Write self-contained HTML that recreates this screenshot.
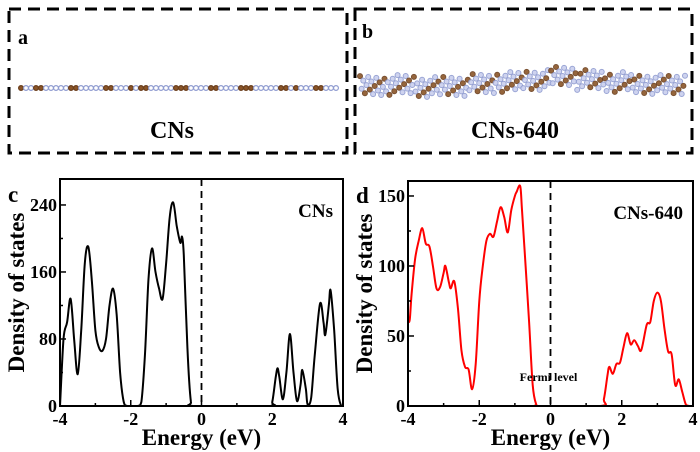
<!DOCTYPE html>
<html><head><meta charset="utf-8">
<style>
html,body{margin:0;padding:0;background:#fff;}
svg{display:block;font-family:"Liberation Serif",serif;}
</style></head>
<body>
<svg id="s" width="700" height="452" viewBox="0 0 700 452">
  <rect x="9" y="9" width="338" height="144" fill="none" stroke="#000" stroke-width="3" stroke-dasharray="12,7"/>
  <rect x="355" y="9" width="337" height="144" fill="none" stroke="#000" stroke-width="3" stroke-dasharray="12,7"/>
  <text x="18" y="44" font-size="20" font-weight="bold">a</text>
  <text x="362" y="38" font-size="20" font-weight="bold">b</text>
  <text x="172" y="138" font-size="24" font-weight="bold" text-anchor="middle">CNs</text>
  <text x="515" y="138" font-size="24" font-weight="bold" text-anchor="middle">CNs-640</text>
  <g id="molA"></g>
  <g id="molB"></g>
  <g id="chartC"></g>
  <g id="chartD"></g>
</svg>
<script>
const cX=[-4,-3.9,-3.8,-3.7,-3.6,-3.5,-3.4,-3.3,-3.2,-3.1,-3.0,-2.9,-2.8,-2.7,-2.6,-2.5,-2.4,-2.3,-2.2,-2.1,-1.8,-1.7,-1.6,-1.5,-1.4,-1.3,-1.2,-1.1,-1.0,-0.9,-0.8,-0.7,-0.6,-0.55,-0.5,-0.4,-0.3,-0.2,1.9,2.0,2.1,2.15,2.2,2.3,2.4,2.5,2.6,2.7,2.8,2.85,2.95,3.0,3.1,3.2,3.35,3.45,3.5,3.6,3.65,3.75,3.85,3.95,4];
const cY=[0,80,100,128,80,38,90,170,190,150,90,70,66,80,120,140,110,40,5,0,0,5,60,150,188,160,140,128,170,225,243,215,195,202,180,70,5,0,0,5,35,45,35,8,40,86,40,6,25,43,20,2,10,60,122,100,85,120,138,90,20,0,0];
const dX=[-4,-3.95,-3.9,-3.8,-3.7,-3.6,-3.5,-3.4,-3.3,-3.2,-3.1,-3.0,-2.95,-2.85,-2.8,-2.7,-2.6,-2.5,-2.4,-2.3,-2.2,-2.1,-2.0,-1.9,-1.8,-1.7,-1.6,-1.5,-1.4,-1.3,-1.2,-1.1,-1.0,-0.95,-0.85,-0.8,-0.7,-0.6,-0.5,-0.4,-0.3,1.4,1.5,1.6,1.65,1.75,1.85,1.95,2.05,2.15,2.25,2.35,2.45,2.55,2.7,2.8,2.9,3.0,3.1,3.2,3.3,3.4,3.5,3.6,3.7,3.8,3.9,4];
const dY=[60,62,80,105,118,127,116,114,100,84,85,95,100,88,84,89,70,40,28,26,12,30,75,100,118,123,121,132,142,135,124,140,150,153,157,140,100,60,15,1,0,0,5,22,28,23,30,31,42,52,44,47,43,40,58,60,75,81,75,55,39,37,15,19,10,1,0,0];
const xTicks=[-4,-2,0,2,4];
const cYTicks=[0,80,160,240];
const dYTicks=[0,50,100,150];

const NS="http://www.w3.org/2000/svg";
function mk(parent,tag,attrs,text){const e=document.createElementNS(NS,tag);for(const k in attrs)e.setAttribute(k,attrs[k]);if(text!==undefined)e.textContent=text;parent.appendChild(e);return e;}
function smooth(pts,B){let d="M"+pts[0][0]+","+pts[0][1];for(let i=0;i<pts.length-1;i++){const p0=pts[Math.max(0,i-1)],p1=pts[i],p2=pts[i+1],p3=pts[Math.min(pts.length-1,i+2)];const c1=[p1[0]+(p2[0]-p0[0])/6,Math.min(B,p1[1]+(p2[1]-p0[1])/6)],c2=[p2[0]-(p3[0]-p1[0])/6,Math.min(B,p2[1]-(p3[1]-p1[1])/6)];d+=" C"+c1[0].toFixed(1)+","+c1[1].toFixed(1)+" "+c2[0].toFixed(1)+","+c2[1].toFixed(1)+" "+p2[0].toFixed(1)+","+p2[1].toFixed(1);}return d;}

function chart(g,cfg){
  const L=cfg.L,R=cfg.R,T=cfg.T,B=cfg.B;
  const sx=v=>L+(v+4)/8*(R-L);
  const sy=v=>B-v/cfg.ymax*(B-T);
  const pts=cfg.xs.map((x,i)=>[sx(x),Math.min(B,sy(cfg.ys[i]))]);
  const clip=mk(g,"clipPath",{id:cfg.id+"clip"});
  mk(clip,"rect",{x:L,y:T,width:R-L,height:B-T});
  const line=mk(g,"path",{d:smooth(pts,B),fill:"none",stroke:cfg.color,"stroke-width":2,"clip-path":"url(#"+cfg.id+"clip)"});
  
  
  const fl=mk(g,"line",{x1:sx(0),x2:sx(0),y1:T,y2:B,stroke:"#000","stroke-width":1.8,"stroke-dasharray":"7,5"});
  
  
  const fr=mk(g,"rect",{x:L,y:T,width:R-L,height:B-T,fill:"none",stroke:"#000","stroke-width":2});
  
  
  for(let v=-4;v<=4;v+=1){const x=sx(v);const len=v%2===0?6:3;mk(g,"line",{x1:x,x2:x,y1:B,y2:B-len,stroke:"#000","stroke-width":1.5});}
  xTicks.forEach(v=>{const t=mk(g,"text",{x:sx(v),y:B+19,"font-size":18,"font-weight":"bold","text-anchor":"middle"},String(v));
    
    });
  const step=cfg.yt[1]-cfg.yt[0];
  for(let v=0;v<=cfg.ymax;v+=step/2){const y=sy(v);const len=(Math.round(v/step*2)%2===0)?6:3;mk(g,"line",{x1:L,x2:L+len,y1:y,y2:y,stroke:"#000","stroke-width":1.5});}
  cfg.yt.forEach(v=>{const t=mk(g,"text",{x:L-3,y:sy(v)+6,"font-size":18,"font-weight":"bold","text-anchor":"end"},String(v));
    
    });
  const xt=mk(g,"text",{x:(L+R)/2,y:445,"font-size":23,"font-weight":"bold","text-anchor":"middle"},"Energy (eV)");
  
  
  const yt=mk(g,"text",{x:0,y:0,"font-size":23,"font-weight":"bold","text-anchor":"middle",transform:"translate("+cfg.ytx+","+((T+B)/2)+") rotate(-90)"},"Density of states");
  
  
  const pl=mk(g,"text",{x:cfg.plx,y:cfg.ply,"font-size":23,"font-weight":"bold"},cfg.panel);
  
  
  const lg=mk(g,"text",{x:R-10,y:T+38,"font-size":19,"font-weight":"bold","text-anchor":"end"},cfg.name);
  
  
  return {sx,sy};
}
chart(document.getElementById("chartC"),{id:"c",L:60,R:343,T:179,B:406,ymax:271,xs:cX,ys:cY,color:"#000",yt:cYTicks,ytx:24,plx:8,ply:202,panel:"c",name:"CNs"});
const d=chart(document.getElementById("chartD"),{id:"d",L:408,R:693,T:181,B:406,ymax:160.7,xs:dX,ys:dY,color:"#f00",yt:dYTicks,ytx:372,plx:356,ply:203,panel:"d",name:"CNs-640"});
const fe=mk(document.getElementById("chartD"),"text",{x:d.sx(0)-2,y:381,"font-size":12,"font-weight":"bold","text-anchor":"middle"},"Fermi level");



// decorative molecular structures
const mA=document.getElementById("molA");
mk(mA,"line",{x1:20,x2:338,y1:88,y2:88,stroke:"#6a4a3a","stroke-width":1.5});
for(let i=0;i<64;i++){const x=21+i*5;const br=(i%7===3||i%7===4||i%11===0);mk(mA,"circle",{cx:x,cy:88,r:2.4,fill:br?"#8a5528":"#fff",stroke:br?"#6b3e1c":"#8f9bd0","stroke-width":1.2});}
const mB=document.getElementById("molB");
const bandMid=[86,85,87,86,84,82,80,76,80,82,84,85,83];
for(let i=0;i<200;i++){const t=i/199;const x=360+t*325;const k=Math.floor(t*12);const mid=bandMid[k];const off=((i*37)%23-11)*0.9;const br=(i%3===0);mk(mB,"circle",{cx:x.toFixed(1),cy:(mid+off).toFixed(1),r:2.5,fill:br?"#8a5528":"#c9cfee",stroke:br?"#6b3e1c":"#8f9bd0","stroke-width":1,opacity:0.9});}
</script>
</body></html>
